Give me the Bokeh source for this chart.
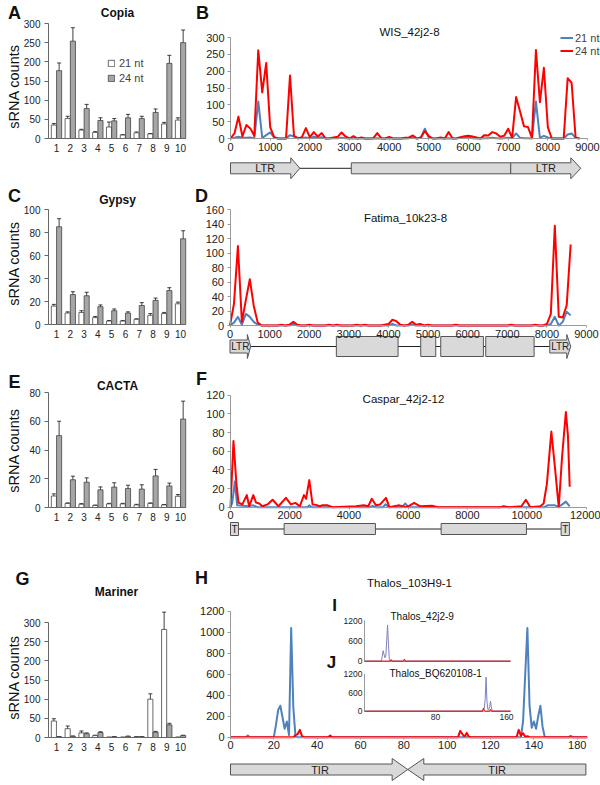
import math
from bokeh.plotting import figure
from bokeh.layouts import row, column
from bokeh.models import (Range1d, Legend, LegendItem, Whisker, TeeHead,
                          ColumnDataSource, FixedTicker)
from bokeh.core.properties import value
from bokeh.embed import file_html
from bokeh.resources import INLINE

FONT = "Liberation Sans"
RED = "#ff0000"
BLUE = "#4f81bd"
INSET_BLUE = "#7f7fbf"
BOX_FILL = "#d9d9d9"
BOX_LINE = "#555555"

# ---------------- bar chart data (A, C, E, G) ----------------
cats = [1, 2, 3, 4, 5, 6, 7, 8, 9, 10]

copia_21 = [35, 52, 22, 16, 30, 9, 15, 12, 38, 48]
copia_21_err = [4, 6, 2, 2, 13, 1, 2, 1, 4, 6]
copia_24 = [177, 254, 78, 47, 46, 54, 52, 68, 196, 250]
copia_24_err = [20, 35, 11, 7, 6, 9, 6, 9, 21, 33]
copia_ticks = [0, 50, 100, 150, 200, 250, 300]
copia_tick_labels = ["0", "50", "100", "150", "200", "250", "300"]

gypsy_21 = [16, 10, 10.5, 6, 3, 3, 4.5, 8, 9.5, 18]
gypsy_21_err = [1.5, 1, 1.5, 1, 0.5, 0.5, 0.5, 1.5, 1, 1.5]
gypsy_24 = [85, 26, 25, 15.5, 12, 10, 16.5, 21, 29.5, 74.5]
gypsy_24_err = [7, 2.5, 3, 1.5, 1.5, 1, 2.5, 2, 2.5, 7]
gypsy_ticks = [0, 20, 40, 60, 80, 100]
gypsy_tick_labels = ["0", "20", "30", "60", "80", "100"]

cacta_21 = [8, 2.8, 2.3, 1.4, 2.5, 2.5, 1.8, 2.8, 1.8, 7.8]
cacta_21_err = [1.5, 0.4, 0.4, 0.3, 0.4, 0.4, 0.4, 0.4, 0.3, 1.2]
cacta_24 = [50, 19.3, 17.6, 12.3, 14.2, 13.2, 12.8, 22, 15, 61.5]
cacta_24_err = [10, 2.5, 3, 2, 3, 2.3, 3, 4.5, 2, 12.5]
cacta_ticks = [0, 20, 40, 60, 80]
cacta_tick_labels = ["0", "20", "40", "60", "80"]

mariner_21 = [43, 23, 12, 5, 0.5, 0.5, 2, 100, 282, 0.5]
mariner_21_err = [6, 7, 5, 1, 0.3, 0.3, 0.5, 14, 45, 0.3]
mariner_24 = [2, 3, 10, 13, 2, 3, 2, 14, 33, 5]
mariner_24_err = [0.5, 1, 2, 2, 0.5, 0.5, 0.5, 2, 4, 1]
mariner_ticks = [0, 50, 100, 150, 200, 250, 300]
mariner_tick_labels = ["0", "50", "100", "150", "200", "250", "300"]

# ---------------- line chart data (B, D, F, H) ----------------
wis_pos = list(range(0, 8801, 100))
wis_24 = [0, 15, 65, 6, 40, 30, 8, 262, 137, 224,
          34, 4, 0, 0, 0, 187, 8, 0, 4, 31,
          4, 19, 6, 16, 0, 1, 3, 5, 18, 6,
          0, 7, 0, 3, 0, 0, 1, 16, 1, 0,
          5, 0, 0, 0, 2, 3, 9, 0, 3, 22,
          7, 0, 1, 3, 0, 19, 0, 1, 4, 7,
          8, 6, 3, 0, 10, 9, 19, 15, 5, 8,
          29, 2, 123, 80, 36, 34, 2, 263, 108, 210,
          34, 0, 0, 0, 0, 179, 165, 3, 0]
wis_21 = [0, 2, 5, 2, 2, 3, 1, 110, 2, 10,
          18, 3, 0, 0, 0, 10, 6, 2, 1, 3,
          1, 5, 3, 4, 0, 0, 1, 1, 2, 1,
          0, 1, 0, 1, 0, 0, 0, 1, 0, 0,
          1, 0, 0, 0, 0, 1, 2, 0, 3, 29,
          2, 0, 0, 0, 0, 1, 0, 0, 2, 3,
          2, 1, 0, 0, 1, 1, 2, 1, 0, 1,
          2, 1, 15, 2, 1, 1, 0, 110, 2, 8,
          3, 0, 0, 0, 0, 12, 15, 2, 0]

fatima_pos = list(range(0, 8601, 100))
fatima_24 = [0, 30, 110, 5, 35, 64, 27, 4, 0, 0,
             0, 0, 0, 1, 0, 1, 5, 1, 0, 0,
             1, 0, 0, 0, 0, 1, 0, 1, 0, 0,
             0, 0, 1, 0, 1, 0, 0, 0, 0, 1,
             2, 8, 6, 1, 0, 1, 5, 1, 2, 0,
             1, 0, 0, 0, 0, 0, 0, 1, 0, 0,
             0, 0, 0, 0, 0, 0, 0, 0, 0, 0,
             0, 1, 0, 0, 0, 0, 0, 1, 0, 0,
             2, 16, 138, 12, 11, 28, 112]
fatima_21 = [0, 4, 12, 1, 16, 12, 5, 1, 0, 0,
             0, 0, 0, 0, 0, 0, 2, 0, 0, 0,
             0, 0, 0, 0, 0, 0, 0, 0, 0, 0,
             0, 0, 0, 0, 0, 0, 0, 0, 0, 0,
             0, 2, 0, 0, 0, 0, 1, 0, 0, 0,
             0, 0, 0, 0, 0, 0, 0, 0, 0, 0,
             0, 0, 0, 0, 0, 0, 0, 0, 0, 0,
             0, 0, 0, 0, 0, 0, 0, 0, 0, 0,
             0, 2, 12, 0, 5, 19, 14]

caspar_24_pos = [0, 100, 200, 270, 400, 550, 630, 770, 860, 970, 1080, 1250, 1420,
                 1620, 1870, 2040, 2190, 2340, 2480, 2550, 2660, 2770, 2890, 3000,
                 3110, 3280, 3450, 4240, 4500, 4650, 4770, 4910, 5050, 5250, 5360,
                 5700, 5900, 6000, 6200, 6400, 6800, 7000, 9100, 9220, 9400, 9820,
                 9970, 10120, 10460, 10570, 10680, 10830, 10960, 11080, 11190,
                 11320, 11390, 11450]
caspar_24 = [0, 71, 25, 5, 3, 13, 1, 13, 5, 4, 1, 3, 8,
             1, 10, 3, 4.6, 1, 13, 9, 29, 3, 2.5, 1,
             2, 2, 0, 1, 2, 1, 9, 2, 3, 10, 0,
             2, 0, 1, 4.7, 1, 1.5, 0, 0, 1, 0, 1,
             8, 0, 1, 4, 25, 81, 40, 0, 53,
             102, 77, 22]
caspar_21_pos = [0, 60, 146, 225, 600, 770, 900, 2600, 2660, 2750, 4700, 4800,
                 4900, 5150, 5230, 5350, 5800, 5900, 6000, 10600, 10700, 10950,
                 11080, 11200, 11320, 11450]
caspar_21 = [0, 5, 27.5, 2, 1, 2, 0, 0, 2, 0, 0, 1.5,
             0, 0, 3, 0, 0, 4, 0, 0, 2, 2,
             0.5, 3, 6, 1]

thalos_21_pos = [0, 7, 8, 9, 20, 21, 22, 23, 24, 25, 26, 27, 28, 29, 30, 31,
                 134, 135, 136, 137, 138, 139, 140, 141, 142, 143, 144, 145, 146,
                 156, 157, 158, 164.6]
thalos_21 = [0, 0, 15, 0, 0, 120, 260, 300, 190, 80, 150, 20, 1040, 280, 5, 0,
             0, 150, 600, 1040, 300, 90, 150, 80, 200, 300, 100, 5, 0,
             0, 12, 0, 0]
thalos_24_pos = [0, 29, 30, 31, 32, 33, 34, 45, 46, 47, 105, 106, 107, 108, 109,
                 110, 111, 132, 133, 134, 135, 136, 137, 138, 164.6]
thalos_24 = [0, 0, 20, 30, 70, 10, 0, 0, 15, 0, 0, 60, 30, 5, 41,
             5, 0, 0, 70, 15, 38, 5, 10, 0, 0]

# insets I and J
inset_i_21_pos = [0, 19, 20, 21, 22, 23, 24, 25, 26, 27, 28, 29, 164.5]
inset_i_21 = [0, 0, 150, 310, 200, 100, 150, 600, 1070, 500, 50, 0, 0]
inset_i_24_pos = [0, 29, 30, 31, 44, 45, 46, 164.5]
inset_i_24 = [0, 0, 50, 0, 0, 65, 0, 0]
inset_j_21_pos = [0, 133, 134, 135, 136, 137, 138, 139, 140, 141, 142, 143, 144, 164.5]
inset_j_21 = [0, 0, 30, 100, 400, 1090, 300, 60, 50, 150, 320, 100, 0, 0]
inset_j_24_pos = [0, 133, 134, 135, 136, 141, 142, 143, 164.5]
inset_j_24 = [0, 0, 100, 20, 0, 0, 60, 0, 0]
inset_yticks = [0, 600, 1200]
inset_ytick_labels = ["0", "600", "1200"]
inset_xticks = [80, 160]
inset_xtick_labels = ["80", "160"]
inset_xmax = 164.5

# ---------------- element maps (bp) ----------------
wis_arrow_start = [0, 7065]
wis_arrow_neck = [1520, 8580]
wis_arrow_tip = [1750, 8830]
wis_box_start = [3045]
wis_box_end = [7065]
wis_text = ["LTR", "LTR"]
wis_text_pos = [875, 7950]

fatima_arrow_start = [0, 8072]
fatima_arrow_neck = [438, 8502]
fatima_arrow_tip = [522, 8602]
fatima_box_start = [2685, 4815, 5320, 6456]
fatima_box_end = [4243, 5194, 6397, 7677]
fatima_text = ["LTR", "LTR"]
fatima_text_pos = [261, 8337]

caspar_tbox_start = [0, 11160]
caspar_tbox_end = [270, 11440]
caspar_box_start = [1810, 7110]
caspar_box_end = [4893, 9990]
caspar_text = ["T", "T"]
caspar_text_pos = [135, 11300]

thalos_arrow_start = [0, 164]
thalos_arrow_neck = [74.6, 89.2]
thalos_arrow_tip = [81.8, 81.8]
thalos_text = ["TIR", "TIR"]
thalos_text_pos = [41.3, 123]

LW, RW = 195, 405


def rng(length, a, b, v0, v1):
    """Range whose value v0 falls on pixel a and v1 on pixel b (pixels from the low side)."""
    k = (v1 - v0) / (b - a)
    return Range1d(v0 - a * k, v0 + (length - a) * k)


def base_fig(W, H, x_range, y_range):
    p = figure(width=W, height=H, x_range=x_range, y_range=y_range,
               output_backend="svg", toolbar_location=None, min_border=0)
    p.grid.visible = False
    p.outline_line_color = None
    p.background_fill_color = "white"
    p.border_fill_color = "white"
    p.extra_x_ranges = {"px": Range1d(0, W)}
    p.extra_y_ranges = {"px": Range1d(H, 0)}
    return p


def style_axes(p, size, color):
    for ax in p.axis:
        ax.major_label_text_font = FONT
        ax.major_label_text_font_size = size
        ax.major_label_text_color = "#222222"
        ax.axis_line_color = color
        ax.major_tick_line_color = color
        ax.minor_tick_line_color = None
        ax.major_tick_in = 0


def txt(p, x, y, s, size, bold=False, align="center", angle=0.0):
    p.text(x=[x], y=[y], text=[s], x_range_name="px", y_range_name="px",
           text_align=align, text_baseline="middle", angle=angle,
           text_font=value(FONT), text_font_size=size,
           text_font_style="bold" if bold else "normal", text_color="#111111")


def bar_panel(H, top, letter, letter_xy, title, title_xy, ylab_y, v21, e21, v24, e24,
              ticks, tick_labels, legend_loc=None):
    bottom = top + 115
    x0, x1 = 0.42, 10.36
    p = base_fig(LW, H, rng(LW, 48, 185, x0, x1), rng(H, H - bottom, H - top, 0, ticks[-1]))
    src = ColumnDataSource(dict(
        x21=[c - 0.19 for c in cats], x24=[c + 0.19 for c in cats],
        v21=v21, v24=v24,
        lo21=[max(v - e, 0) for v, e in zip(v21, e21)],
        hi21=[v + e for v, e in zip(v21, e21)],
        lo24=[max(v - e, 0) for v, e in zip(v24, e24)],
        hi24=[v + e for v, e in zip(v24, e24)]))
    r1 = p.vbar(x="x21", top="v21", width=0.37, source=src, fill_color="white",
                line_color="#444444", line_width=0.8)
    r2 = p.vbar(x="x24", top="v24", width=0.37, source=src, fill_color="#a6a6a6",
                line_color="#444444", line_width=0.8)
    for b, lo, hi in (("x21", "lo21", "hi21"), ("x24", "lo24", "hi24")):
        p.add_layout(Whisker(source=src, base=b, lower=lo, upper=hi,
                             line_color="#111111", line_width=0.8,
                             upper_head=TeeHead(size=4, line_color="#111111", line_width=0.8),
                             lower_head=TeeHead(size=4, line_color="#111111", line_width=0.8)))
    p.xaxis.ticker = FixedTicker(ticks=cats)
    p.yaxis.ticker = FixedTicker(ticks=ticks)
    p.yaxis.major_label_overrides = {t: l for t, l in zip(ticks, tick_labels)}
    p.xaxis.fixed_location = 0
    p.xaxis.bounds = (x0, x1)
    p.yaxis.fixed_location = x0
    p.yaxis.bounds = (0, ticks[-1])
    style_axes(p, "10px", "#666666")
    p.xaxis.major_tick_out = 0
    p.xaxis.major_label_standoff = 5
    p.yaxis.major_tick_out = 4
    p.yaxis.major_label_standoff = 4
    txt(p, letter_xy[0], letter_xy[1], letter, "18px", bold=True)
    txt(p, title_xy[0], title_xy[1], title, "12px", bold=True)
    txt(p, 13, ylab_y, "sRNA counts", "14.5px", angle=math.pi / 2)
    if legend_loc:
        lg = Legend(items=[LegendItem(label="21 nt", renderers=[r1]),
                           LegendItem(label="24 nt", renderers=[r2])],
                    location=legend_loc, glyph_width=8, glyph_height=8, label_height=12,
                    spacing=3, padding=0, margin=0, border_line_color=None,
                    background_fill_alpha=0, label_text_font=FONT,
                    label_text_font_size="11px", label_standoff=4)
        p.add_layout(lg)
    return p


def line_panel(H, top, bottom, xpix, xmax, xticks, yticks, s21, s24, letter, letter_xy,
               title, title_xy, x_overrides=None, legend_loc=None):
    p = base_fig(RW, H, rng(RW, xpix[0], xpix[1], 0, xmax),
                 rng(H, H - bottom, H - top, 0, yticks[-1]))
    rb = p.line(s21[0], s21[1], line_color=BLUE, line_width=2, line_join="round")
    rr = p.line(s24[0], s24[1], line_color=RED, line_width=2, line_join="round")
    p.xaxis.ticker = FixedTicker(ticks=xticks)
    p.yaxis.ticker = FixedTicker(ticks=yticks)
    if x_overrides:
        p.xaxis.major_label_overrides = x_overrides
    p.xaxis.fixed_location = 0
    p.xaxis.bounds = (0, xmax)
    p.yaxis.fixed_location = 0
    p.yaxis.bounds = (0, yticks[-1])
    style_axes(p, "11px", "#9a9a9a")
    p.xaxis.major_tick_out = 2
    p.xaxis.major_label_standoff = 2
    p.yaxis.major_tick_out = 3
    p.yaxis.major_label_standoff = 3
    txt(p, letter_xy[0], letter_xy[1], letter, "18px", bold=True)
    txt(p, title_xy[0], title_xy[1], title, "11.5px")
    if legend_loc:
        lg = Legend(items=[LegendItem(label="21 nt", renderers=[rb]),
                           LegendItem(label="24 nt", renderers=[rr])],
                    location=legend_loc, glyph_width=13, glyph_height=13,
                    label_height=13, spacing=0, padding=0, margin=0,
                    border_line_color=None, background_fill_alpha=0,
                    label_text_font=FONT, label_text_font_size="11px", label_standoff=2)
        p.add_layout(lg)
    return p


def diagram(p, cy, span, arrows=None, boxes=None, tboxes=None, texts=None,
            body=5.5, head=10.5, box_h=5.5, tbox_h=6.5, font_size="10px"):
    p.line(span, [cy, cy], y_range_name="px", line_color="#222222", line_width=1)
    if boxes:
        p.quad(left=boxes[0], right=boxes[1], bottom=cy + box_h, top=cy - box_h,
               y_range_name="px", fill_color=BOX_FILL, line_color=BOX_LINE, line_width=1)
    if tboxes:
        p.quad(left=tboxes[0], right=tboxes[1], bottom=cy + tbox_h, top=cy - tbox_h,
               y_range_name="px", fill_color=BOX_FILL, line_color=BOX_LINE, line_width=1)
    if arrows:
        xs, ys = [], []
        for s, n, t in zip(*arrows):
            xs.append([s, n, n, t, n, n, s])
            ys.append([cy - body, cy - body, cy - head, cy, cy + head, cy + body, cy + body])
        p.patches(xs, ys, y_range_name="px", fill_color=BOX_FILL, line_color=BOX_LINE,
                  line_width=1)
    if texts:
        p.text(x=texts[1], y=[cy] * len(texts[1]), text=texts[0], y_range_name="px",
               text_align="center", text_baseline="middle", text_font=value(FONT),
               text_font_size=font_size, text_color="#222222")


# ---------------- left column: bar charts ----------------
pA = bar_panel(180, 23, "A", (14, 12), "Copia", (117, 12), 86, copia_21, copia_21_err,
               copia_24, copia_24_err, copia_ticks, copia_tick_labels,
               legend_loc=(107, 96))
pC = bar_panel(180, 29, "C", (14, 15), "Gypsy", (117, 19), 83, gypsy_21, gypsy_21_err,
               gypsy_24, gypsy_24_err, gypsy_ticks, gypsy_tick_labels)
pE = bar_panel(180, 32, "E", (14, 21), "CACTA", (117, 25), 90, cacta_21, cacta_21_err,
               cacta_24, cacta_24_err, cacta_ticks, cacta_tick_labels)
pG = bar_panel(245, 82, "G", (22, 38), "Mariner", (116, 51), 137, mariner_21,
               mariner_21_err, mariner_24, mariner_24_err, mariner_ticks,
               mariner_tick_labels)

# ---------------- right column: coverage profiles ----------------
pB = line_panel(180, 37, 138, (35, 392), 9000, list(range(0, 9001, 1000)),
                [0, 50, 100, 150, 200, 250, 300], (wis_pos, wis_21), (wis_pos, wis_24),
                "B", (7, 12), "WIS_42j2-8", (214, 31), legend_loc=(365, 123))
diagram(pB, 167.8, [wis_arrow_start[0], wis_arrow_tip[-1]],
        arrows=(wis_arrow_start, wis_arrow_neck, wis_arrow_tip),
        boxes=(wis_box_start, wis_box_end), texts=(wis_text, wis_text_pos),
        body=5.5, head=10.5, box_h=5.5, font_size="11px")

pD = line_panel(180, 29.3, 145, (34.5, 391), 9000, list(range(0, 9001, 1000)),
                [0, 20, 40, 60, 80, 100, 120, 140, 160],
                (fatima_pos, fatima_21), (fatima_pos, fatima_24), "D", (6, 15),
                "Fatima_10k23-8", (210, 37))
diagram(pD, 166, [fatima_arrow_start[0], fatima_arrow_tip[-1]],
        arrows=(fatima_arrow_start, fatima_arrow_neck, fatima_arrow_tip),
        boxes=(fatima_box_start, fatima_box_end), texts=(fatima_text, fatima_text_pos),
        body=6.5, head=12, box_h=10, font_size="10px")

pF = line_panel(180, 34.7, 146.7, (35, 390.5), 12000, list(range(0, 12001, 2000)),
                [0, 20, 40, 60, 80, 100, 120],
                (caspar_21_pos, caspar_21), (caspar_24_pos, caspar_24), "F", (6, 18),
                "Caspar_42j2-12", (208, 38))
diagram(pF, 168.5, [caspar_tbox_start[0], caspar_tbox_end[-1]],
        boxes=(caspar_box_start, caspar_box_end),
        tboxes=(caspar_tbox_start, caspar_tbox_end),
        texts=(caspar_text, caspar_text_pos), box_h=5.5, tbox_h=6.5, font_size="10px")

HH = 245
pH = line_panel(HH, 70.7, 196.7, (35, 391.7), 164.6, [0, 20, 40, 60, 80, 100, 120, 140, 160],
                [0, 200, 400, 600, 800, 1000, 1200],
                (thalos_21_pos, thalos_21), (thalos_24_pos, thalos_24), "H", (6, 37),
                "Thalos_103H9-1", (214, 42), x_overrides={160: "180"})
diagram(pH, 229, [thalos_arrow_start[0], thalos_arrow_start[-1]],
        arrows=(thalos_arrow_start, thalos_arrow_neck, thalos_arrow_tip),
        texts=(thalos_text, thalos_text_pos), body=5.5, head=11, font_size="11px")

# insets I and J inside panel H, each on its own ranges
pH.extra_x_ranges["ins"] = rng(RW, 169, 315, 0, inset_xmax)
pH.extra_y_ranges["iy"] = rng(HH, HH - 120.7, HH - 80, 0, inset_yticks[-1])
pH.extra_y_ranges["jy"] = rng(HH, HH - 170.7, HH - 133.3, 0, inset_yticks[-1])
for yr, s21, s24 in (("iy", (inset_i_21_pos, inset_i_21), (inset_i_24_pos, inset_i_24)),
                     ("jy", (inset_j_21_pos, inset_j_21), (inset_j_24_pos, inset_j_24))):
    pH.line([0, inset_xmax], [0, 0], x_range_name="ins", y_range_name=yr,
            line_color="#9a9a9a", line_width=1)
    pH.line([0, 0], [inset_yticks[0], inset_yticks[-1]], x_range_name="ins",
            y_range_name=yr, line_color="#9a9a9a", line_width=1)
    pH.line(s21[0], s21[1], x_range_name="ins", y_range_name=yr,
            line_color=INSET_BLUE, line_width=1)
    pH.line(s24[0], s24[1], x_range_name="ins", y_range_name=yr,
            line_color=RED, line_width=1)
    pH.text(x=[0] * len(inset_yticks), y=inset_yticks, text=inset_ytick_labels,
            x_offset=-2, x_range_name="ins", y_range_name=yr, text_align="right",
            text_baseline="middle", text_font=value(FONT), text_font_size="8.5px",
            text_color="#222222")
pH.text(x=inset_xticks, y=[0] * len(inset_xticks), text=inset_xtick_labels, y_offset=3,
        x_range_name="ins", y_range_name="jy", text_align="center", text_baseline="top",
        text_font=value(FONT), text_font_size="8.5px", text_color="#222222")
txt(pH, 139, 65, "I", "17px", bold=True)
txt(pH, 195, 76, "Thalos_42j2-9", "10px", align="left")
txt(pH, 136, 122, "J", "17px", bold=True)
txt(pH, 194, 132.5, "Thalos_BQ620108-1", "10px", align="left")

layout = column(
    row(pA, pB, spacing=0),
    row(pC, pD, spacing=0),
    row(pE, pF, spacing=0),
    row(pG, pH, spacing=0),
    spacing=0)

open("out.html", "w").write(file_html(layout, INLINE))
